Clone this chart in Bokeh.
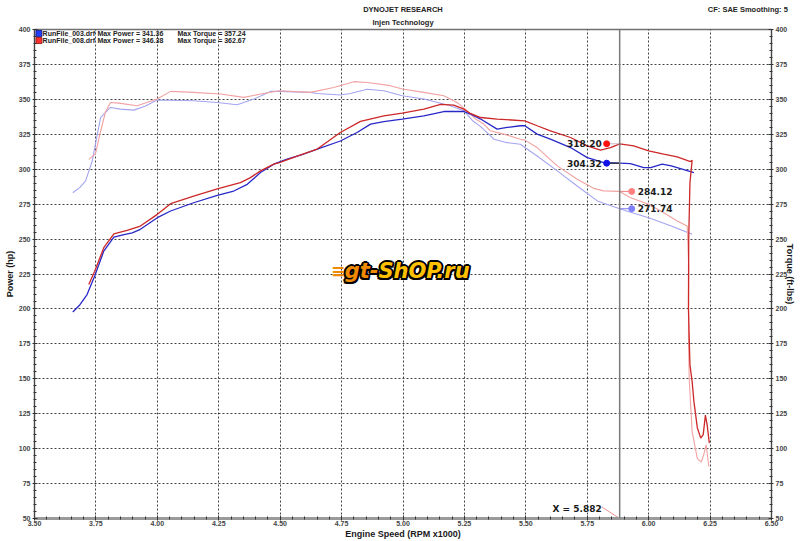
from bokeh.plotting import figure
from bokeh.models import (Range1d, LinearAxis, SingleIntervalTicker, FixedTicker, Span, Label,
                          PrintfTickFormatter, InlineStyleSheet)
from bokeh.core.properties import value
from bokeh.embed import file_html
from bokeh.resources import INLINE

# ---------------- data ----------------
run_names = ["RunFile_003.drf", "RunFile_008.drf"]
max_power = [341.36, 346.38]
max_torque = [357.24, 362.67]
header_title = "DYNOJET RESEARCH"
header_sub = "Injen Technology"
header_cf = "CF: SAE  Smoothing: 5"

# Run 003 power (hp)
rpm_p003 = [3.656, 3.685, 3.714, 3.745, 3.782, 3.823, 3.86, 3.898, 3.931, 4.0, 4.054, 4.148,
            4.244, 4.311, 4.366, 4.42, 4.474, 4.528, 4.583, 4.651, 4.745, 4.813, 4.868, 4.922,
            4.997, 5.085, 5.166, 5.22, 5.248, 5.274, 5.316, 5.383, 5.424, 5.478, 5.496, 5.546,
            5.6, 5.682, 5.75, 5.817, 5.882, 5.926, 5.98, 6.008, 6.055, 6.092, 6.184]
hp_003 = [197.8, 203.0, 210.3, 223.5, 241.4, 251.4, 253.0, 254.5, 257.0, 265.3, 270.1, 276.0,
          281.3, 284.4, 289.2, 297.6, 303.6, 307.2, 310.0, 314.4, 320.2, 326.3, 332.3, 334.0,
          335.9, 338.2, 341.3, 341.4, 341.3, 339.5, 335.9, 328.7, 329.9, 331.1, 331.1, 325.1,
          321.5, 315.5, 308.3, 304.7, 304.32, 304.0, 301.2, 301.2, 303.6, 302.4, 297.6]

# Run 008 power (hp)
rpm_p008 = [3.721, 3.745, 3.782, 3.823, 3.877, 3.931, 4.0, 4.054, 4.148, 4.244, 4.338, 4.379,
            4.42, 4.474, 4.497, 4.583, 4.651, 4.745, 4.827, 4.922, 4.997, 5.085, 5.153, 5.207,
            5.248, 5.274, 5.316, 5.383, 5.496, 5.546, 5.6, 5.682, 5.75, 5.804, 5.845, 5.882,
            5.939, 6.0, 6.061, 6.116, 6.17, 6.177, 6.168, 6.163, 6.162, 6.168, 6.177, 6.184,
            6.198, 6.212, 6.222, 6.231, 6.238, 6.247]
hp_008 = [217.5, 227.0, 243.8, 253.8, 256.2, 259.3, 267.7, 275.3, 280.8, 286.0, 290.4, 294.0,
          298.8, 303.6, 304.7, 310.3, 314.4, 326.3, 334.2, 338.2, 340.2, 343.0, 346.4, 345.9,
          343.0, 339.9, 337.0, 335.9, 334.6, 331.1, 327.5, 322.7, 316.7, 313.6, 315.5, 318.2,
          316.7, 313.2, 310.8, 308.8, 305.5, 306.4, 290.0, 250.0, 200.0, 160.0, 148.0, 134.0,
          115.0, 107.5, 110.0, 124.0, 117.0, 104.0]

# Run 003 torque (ft-lbs)
rpm_t003 = [3.656, 3.685, 3.708, 3.735, 3.769, 3.809, 3.85, 3.904, 3.95, 3.999, 4.148, 4.244,
            4.325, 4.393, 4.461, 4.497, 4.623, 4.651, 4.745, 4.786, 4.854, 4.922, 4.997, 5.085,
            5.193, 5.248, 5.285, 5.316, 5.37, 5.424, 5.478, 5.496, 5.546, 5.628, 5.709, 5.791,
            5.882, 5.953, 6.0, 6.092, 6.177]
tq_003 = [283.2, 287.0, 291.6, 306.0, 337.0, 344.2, 343.0, 342.3, 345.0, 349.5, 349.0, 347.8,
          346.1, 350.2, 355.7, 355.7, 355.0, 354.2, 353.1, 354.2, 357.2, 356.2, 352.6, 350.2,
          345.4, 341.8, 334.5, 330.5, 321.5, 319.0, 317.9, 315.5, 309.5, 298.8, 288.0, 277.3,
          271.74, 267.8, 265.3, 259.3, 253.4]

# Run 008 torque (ft-lbs)
rpm_t008 = [3.721, 3.748, 3.769, 3.789, 3.809, 3.843, 3.918, 3.999, 4.054, 4.148, 4.257, 4.352,
            4.42, 4.497, 4.623, 4.718, 4.8, 4.854, 4.949, 4.997, 5.085, 5.166, 5.22, 5.261,
            5.295, 5.329, 5.355, 5.41, 5.478, 5.496, 5.546, 5.628, 5.709, 5.776, 5.817, 5.882,
            5.926, 6.0, 6.061, 6.116, 6.157, 6.163, 6.162, 6.165, 6.177, 6.198, 6.214, 6.224,
            6.234, 6.245]
tq_008 = [307.0, 311.0, 327.0, 341.0, 347.8, 347.3, 345.4, 350.2, 355.7, 355.0, 353.8, 351.4,
          353.8, 356.2, 355.0, 358.5, 362.67, 362.1, 359.8, 357.4, 355.0, 352.6, 347.8, 341.8,
          336.0, 332.3, 327.5, 325.1, 321.5, 320.8, 315.5, 302.4, 292.8, 286.3, 284.5, 284.12,
          279.6, 274.9, 268.9, 263.0, 259.3, 230.0, 180.0, 150.0, 112.0, 93.0, 90.3, 95.6,
          102.7, 87.2]

cursor_rpm = 5.882
cursor_power = [318.20, 304.32]   # run 008, run 003
cursor_torque = [284.12, 271.74]  # run 008, run 003

x_ticks_interval = 0.25
y_ticks_interval = 25

# ---------------- figure ----------------
LBL = "Liberation Sans"
page_border = InlineStyleSheet(css=":host { outline: 1.5px dashed #c0c0c0; outline-offset: -2px; }")
p = figure(width=800, height=541, output_backend="svg", toolbar_location=None,
           x_range=Range1d(3.5, 6.5), y_range=Range1d(50, 400),
           min_border_left=34, min_border_right=29, min_border_top=29, min_border_bottom=22,
           background_fill_color="white", border_fill_color="white",
           stylesheets=[page_border])
p.extra_y_ranges = {"torque": Range1d(50, 400)}

p.outline_line_color = "#707070"
p.outline_line_width = 1.5

xt = SingleIntervalTicker(interval=x_ticks_interval, num_minor_ticks=5)
yt = SingleIntervalTicker(interval=y_ticks_interval, num_minor_ticks=5)

xa = p.xaxis[0]
xa.ticker = xt
xa.formatter = PrintfTickFormatter(format="%.2f")
xa.axis_label = "Engine Speed (RPM x1000)"
xa.axis_line_width = 3
xa.axis_line_color = "#9a9a9a"

ya = p.yaxis[0]
ya.ticker = yt
ya.axis_label = "Power (hp)"

ra = LinearAxis(y_range_name="torque",
                ticker=SingleIntervalTicker(interval=y_ticks_interval, num_minor_ticks=5),
                axis_label="Torque (ft-lbs)")
p.add_layout(ra, "right")

for ax in (xa, ya, ra):
    ax.major_label_text_font = LBL
    ax.major_label_text_font_size = "7px"
    ax.major_label_text_font_style = "bold"
    ax.major_label_text_color = "#444444"
    ax.axis_label_text_font = LBL
    ax.axis_label_text_font_size = "9px"
    ax.axis_label_text_font_style = "bold"
    ax.axis_label_text_color = "#1a1a1a"
    ax.major_tick_in = 3
    ax.major_tick_out = 2
    ax.minor_tick_in = 2
    ax.minor_tick_out = 1
    ax.major_tick_line_color = "#333333"
    ax.minor_tick_line_color = "#333333"
    ax.major_label_standoff = 2
    ax.axis_label_standoff = 1
ya.axis_line_color = "#444444"
ra.axis_line_color = "#444444"
xa.major_label_standoff = 0
xa.axis_label_standoff = 0
ra.axis_label_standoff = -5

for g in (p.xgrid[0], p.ygrid[0]):
    g.grid_line_color = "#222222"
    g.grid_line_dash = "2 2"
    g.grid_line_width = 1
    g.grid_line_alpha = 0.85
p.xgrid[0].ticker = xt
p.ygrid[0].ticker = yt

# ---------------- header rows (label-only axes above the frame) ----------------
def header_axis(ticks, labels, standoff):
    ax = LinearAxis(ticker=FixedTicker(ticks=ticks, minor_ticks=[]),
                    major_label_overrides=dict(zip(ticks, labels)))
    ax.axis_line_alpha = 0
    ax.major_tick_line_alpha = 0
    ax.minor_tick_line_alpha = 0
    ax.major_tick_in = 0
    ax.major_tick_out = 0
    ax.major_label_standoff = standoff
    ax.major_label_text_font = LBL
    ax.major_label_text_font_size = "7.5px"
    ax.major_label_text_font_style = "bold"
    ax.major_label_text_color = "#222222"
    return ax

p.add_layout(header_axis([5.0], [header_sub], 3), "above")
p.add_layout(header_axis([5.0, 6.408], [header_title, header_cf], 1), "above")

# ---------------- curves ----------------
C_B = "#2828c8"
C_R = "#cc2828"
C_LB = "#a4a4f0"
C_LR = "#f2a2a2"
p.line(rpm_t003, tq_003, line_color=C_LB, line_width=1.1, y_range_name="torque")
p.line(rpm_t008, tq_008, line_color=C_LR, line_width=1.1, y_range_name="torque")
p.line(rpm_p003, hp_003, line_color=C_B, line_width=1.3)
p.line(rpm_p008, hp_008, line_color=C_R, line_width=1.3)

# ---------------- cursor ----------------
p.add_layout(Span(location=cursor_rpm, dimension="height", line_color="#7a7a7a", line_width=1.5))

dk_x = cursor_rpm - 0.053
lt_x = cursor_rpm + 0.049
p.segment(x0=[dk_x, dk_x], y0=cursor_power, x1=[cursor_rpm] * 2, y1=cursor_power,
          line_color=["#c8b8c8", "#111111"], line_width=1)
p.segment(x0=[cursor_rpm] * 2, y0=cursor_torque, x1=[lt_x, lt_x], y1=cursor_torque,
          line_color=["#f08080", "#8080f0"], line_width=1)
p.scatter([dk_x, dk_x], cursor_power, size=6, color=["#ff1010", "#1010e8"])
p.scatter([lt_x, lt_x], cursor_torque, size=6, color=["#ff8080", "#8080ff"])
p.text([dk_x, dk_x], cursor_power, text=[f"{v:.2f}" for v in cursor_power],
       x_offset=-5, text_align="right", text_baseline="middle",
       text_font=value("DejaVu Sans"), text_font_size=value("9px"), text_font_style="bold",
       text_color="#1a1a1a")
p.text([lt_x, lt_x], cursor_torque, text=[f"{v:.2f}" for v in cursor_torque],
       x_offset=6, text_align="left", text_baseline="middle",
       text_font=value("DejaVu Sans"), text_font_size=value("9px"), text_font_style="bold",
       text_color="#1a1a1a")
p.segment(x0=[cursor_rpm - 0.072], y0=[58.2], x1=[cursor_rpm], y1=[50],
          line_color="#f09090", line_width=1)
p.text([cursor_rpm], [50], text=[f"X = {cursor_rpm:.3f}"], x_offset=-18, y_offset=-10,
       text_align="right", text_baseline="middle",
       text_font=value("DejaVu Sans"), text_font_size=value("9px"), text_font_style="bold",
       text_color="#1a1a1a")

# ---------------- legend block ----------------
leg_y = [397.1, 392.1]
p.rect(x=[3.518, 3.518], y=leg_y, width=6, height=6, width_units="screen", height_units="screen",
       fill_color=["#2040ff", "#ff3030"], line_color=["#10108a", "#8a1010"], line_width=0.8)
p.text([3.533] * 2, leg_y, text=run_names, text_baseline="middle",
       text_font=value(LBL), text_font_size=value("7px"), text_font_style="bold", text_color="#222222")
p.text([3.756] * 2, leg_y, text=[f"Max Power = {v:.2f}" for v in max_power], text_baseline="middle",
       text_font=value(LBL), text_font_size=value("7px"), text_font_style="bold", text_color="#222222")
p.text([4.082] * 2, leg_y, text=[f"Max Torque = {v:.2f}" for v in max_torque], text_baseline="middle",
       text_font=value(LBL), text_font_size=value("7px"), text_font_style="bold", text_color="#222222")

# ---------------- watermark ----------------
wm_y = 227
for part, col, al in [("gt-", "#f08a00", "right"), ("ShOP.ru", "#ffc000", "left")]:
    for dx, dy in [(-1.5, -1.5), (-1.5, 1.5), (1.5, -1.5), (1.5, 1.5), (0, 2), (0, -2), (2, 0), (-2, 0)]:
        p.add_layout(Label(x=4.90, y=wm_y, x_offset=dx, y_offset=dy, text=part, text_align=al,
                           text_baseline="middle", text_font="DejaVu Sans", text_font_size="21px",
                           text_font_style="bold italic", text_color="black"))
    p.add_layout(Label(x=4.90, y=wm_y, text=part, text_align=al, text_baseline="middle",
                       text_font="DejaVu Sans", text_font_size="21px",
                       text_font_style="bold italic", text_color=col))
p.add_layout(Label(x=4.765, y=wm_y, text="\u2261", text_align="right", text_baseline="middle",
                   text_font="DejaVu Sans", text_font_size="17px", text_font_style="bold",
                   text_color="#f08a00"))

open("out.html", "w").write(file_html(p, INLINE))
